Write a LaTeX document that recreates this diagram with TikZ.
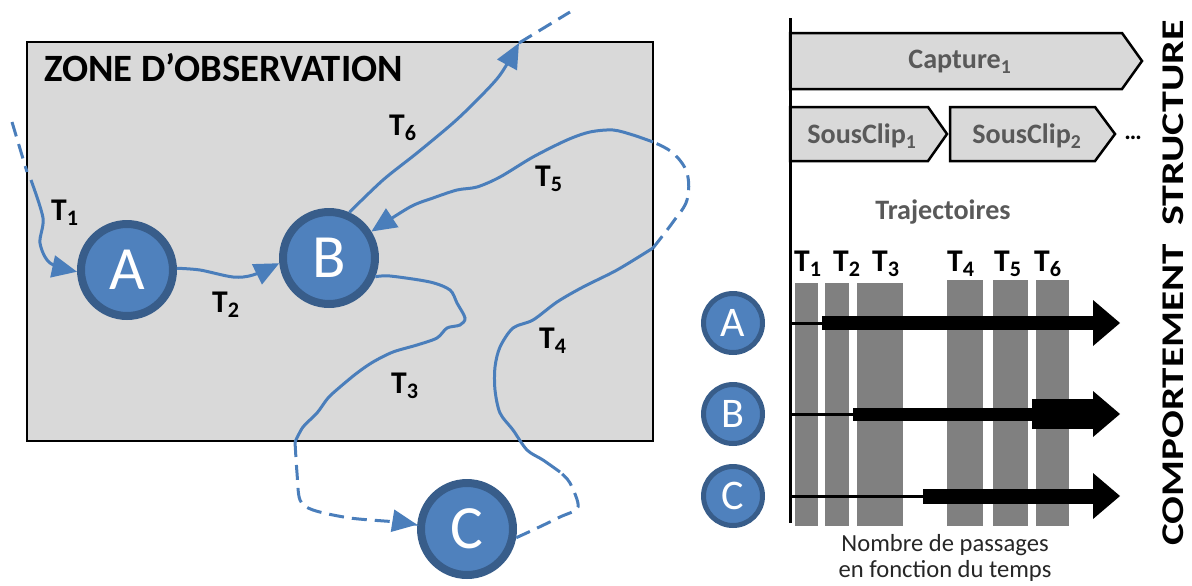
\documentclass[tikz,border=0pt]{standalone}
\usepackage{fontspec}
\setmainfont{Carlito}
\usetikzlibrary{arrows.meta,positioning}
\definecolor{bleu}{HTML}{4F81BD}
\definecolor{bleufonce}{HTML}{385D8A}
\definecolor{trait}{HTML}{4A7EBB}
\definecolor{fond}{HTML}{D9D9D9}
\definecolor{barre}{HTML}{808080}
\definecolor{texte}{HTML}{595959}

\begin{document}
\begin{tikzpicture}[x=0.02cm, y=-0.02cm,
  etat/.style={circle, fill=bleu, draw=bleufonce, line width=0.16cm, minimum size=1.84cm,
    inner sep=0pt, text=white, font=\fontsize{35}{35}\selectfont},
  petit/.style={circle, fill=bleu, draw=bleufonce, line width=0.1cm, minimum size=1.18cm,
    inner sep=0pt, text=white, font=\fontsize{24}{24}\selectfont},
  traj/.style={draw=trait, line width=0.06cm},
  pointille/.style={traj, dash pattern=on 0.3cm off 0.16cm},
  fleche/.style={-{Triangle[length=0.5cm,width=0.44cm]}},
  lab/.style={font=\fontsize{18}{18}\selectfont\bfseries},
  boite/.style={fill=fond, draw=black, line width=0.05cm},
  gris/.style={text=texte, font=\fontsize{16}{16}\selectfont\bfseries},
  titre/.style={rotate=90, inner sep=0pt, font=\fontsize{18}{18}\selectfont\bfseries}]
  \useasboundingbox (0,0) rectangle (1192,585);

  % zone d'observation
  \draw[boite] (27,42) rectangle (653,441);
  \node[anchor=west, font=\fontsize{22}{22}\selectfont\bfseries] (zone) at (38,68) {ZONE D’OBSERVATION};

  \node[etat] (A) at (127,270) {A};
  \node[etat] (B) at (329,258) {B};
  \node[etat] (C) at (467,529) {C};

  % points hors zone
  \coordinate (e1) at (12,122);
  \coordinate (b1) at (27,172);
  \coordinate (b6) at (519,43);
  \coordinate (s6) at (570,12);

  % T1
  \draw[pointille] (e1) -- (b1);
  \draw[traj, fleche] plot[smooth, tension=0.5] coordinates {(31,180) (43,218) (40,243) (50,263) (A.182)};
  % T2
  \draw[traj, fleche] plot[smooth, tension=0.5] coordinates {(A.2) (200,270) (233,277) (253,275) (B.186)};
  % T6
  \draw[traj, fleche] plot[smooth, tension=0.5] coordinates {(B.66) (383,180) (417,153) (453,123) (477,100) (500,75) (b6)};
  \draw[pointille] (b6) -- (s6);
  % T3
  \draw[traj] plot[smooth, tension=0.5] coordinates {(B.338) (390,276) (430,282) (450,290) (457,303)
    (465,318) (460,325) (447,328) (437,338) (417,345) (393,352) (373,362) (357,373) (340,387)
    (328,398) (317,413) (303,427) (295,442)};
  \draw[pointille, fleche] plot[smooth, tension=0.5] coordinates {(295,442) (297,473) (300,500)
    (313,510) (350,518) (397,522) (C.175)};
  % T4 puis T5
  \draw[pointille] plot[smooth, tension=0.5] coordinates {(C.350) (533,530) (560,517) (578,507)
    (570,483) (560,472)};
  \draw[traj] plot[smooth, tension=0.5] coordinates {(560,472) (543,460) (527,450) (513,430)
    (500,413) (495,390) (495,367) (500,347) (513,328) (533,320) (557,302) (583,287) (617,270)
    (653,248)};
  \draw[pointille] plot[smooth, tension=0.6] coordinates {(653,248) (673,222) (687,200) (687,173)
    (673,153) (653,142)};
  \draw[traj, fleche] plot[smooth, tension=0.5] coordinates {(653,142) (633,135) (613,130) (590,132)
    (567,140) (533,157) (500,177) (477,187) (457,190) (433,198) (410,207) (B.32)};

  \node[lab] (l1) at (65,213) {T\textsubscript{1}};
  \node[lab] (l2) at (226,305) {T\textsubscript{2}};
  \node[lab] (l3) at (405,386) {T\textsubscript{3}};
  \node[lab] (l4) at (553,341) {T\textsubscript{4}};
  \node[lab] (l5) at (549,179) {T\textsubscript{5}};
  \node[lab] (l6) at (403,128) {T\textsubscript{6}};

  % structure
  \draw[boite] (790,33) -- (1122,33) -- (1142,61) -- (1122,89) -- (790,89) -- cycle;
  \node[gris] (capture) at (960,62) {Capture\textsubscript{1}};
  \draw[boite] (790,107) -- (928,107) -- (947,134) -- (928,161) -- (790,161) -- cycle;
  \node[gris] (sc1) at (862,136) {SousClip\textsubscript{1}};
  \draw[boite] (950,107) -- (1095,107) -- (1115,134) -- (1095,161) -- (950,161) -- cycle;
  \node[gris] (sc2) at (1027,136) {SousClip\textsubscript{2}};
  \node[font=\fontsize{14}{14}\selectfont\bfseries] (etc) at (1133,138) {\dots};
  \node[gris] (traject) at (943,212) {Trajectoires};

  % comportement
  \foreach \xa/\xb/\yh/\xt/\t in {795/818/283/808/1, 825/849/283/847/2, 857/903/283/886/3,
      947/983/280/961/4, 993/1028/280/1008/5, 1036/1069/280/1048/6} {
    \fill[barre] (\xa,\yh) rectangle (\xb,526);
    \node[lab] (tt\t) at (\xt,264) {T\textsubscript{\t}};
  }

  \foreach \n/\y/\xd/\e in {A/323/822/14, B/414/853/13, C/496/923/15} {
    \node[petit] (p\n) at (733,\y) {\n};
    \draw[line width=0.06cm] (790,\y) -- (\xd,\y);
    \fill ({\xd},{\y-\e/2}) rectangle (1094,{\y+\e/2});
    \fill (1093,\y-23) -- (1120,\y) -- (1093,\y+23) -- cycle;
  }
  \fill (1032,399) rectangle (1094,429);

  \draw[line width=0.06cm] (790,18) -- (790,523);

  \node[align=center, text=black!85, font=\fontsize{14}{14.5}\selectfont] (temps) at (945,558)
    {Nombre de passages\\en fonction du temps};

  \node[titre] (structure) at (1173,123) {\scalebox{1.33}[1]{STRUCTURE}};
  \node[titre] (comport) at (1173,395) {\scalebox{1.3}[1]{COMPORTEMENT}};
\end{tikzpicture}
\end{document}
